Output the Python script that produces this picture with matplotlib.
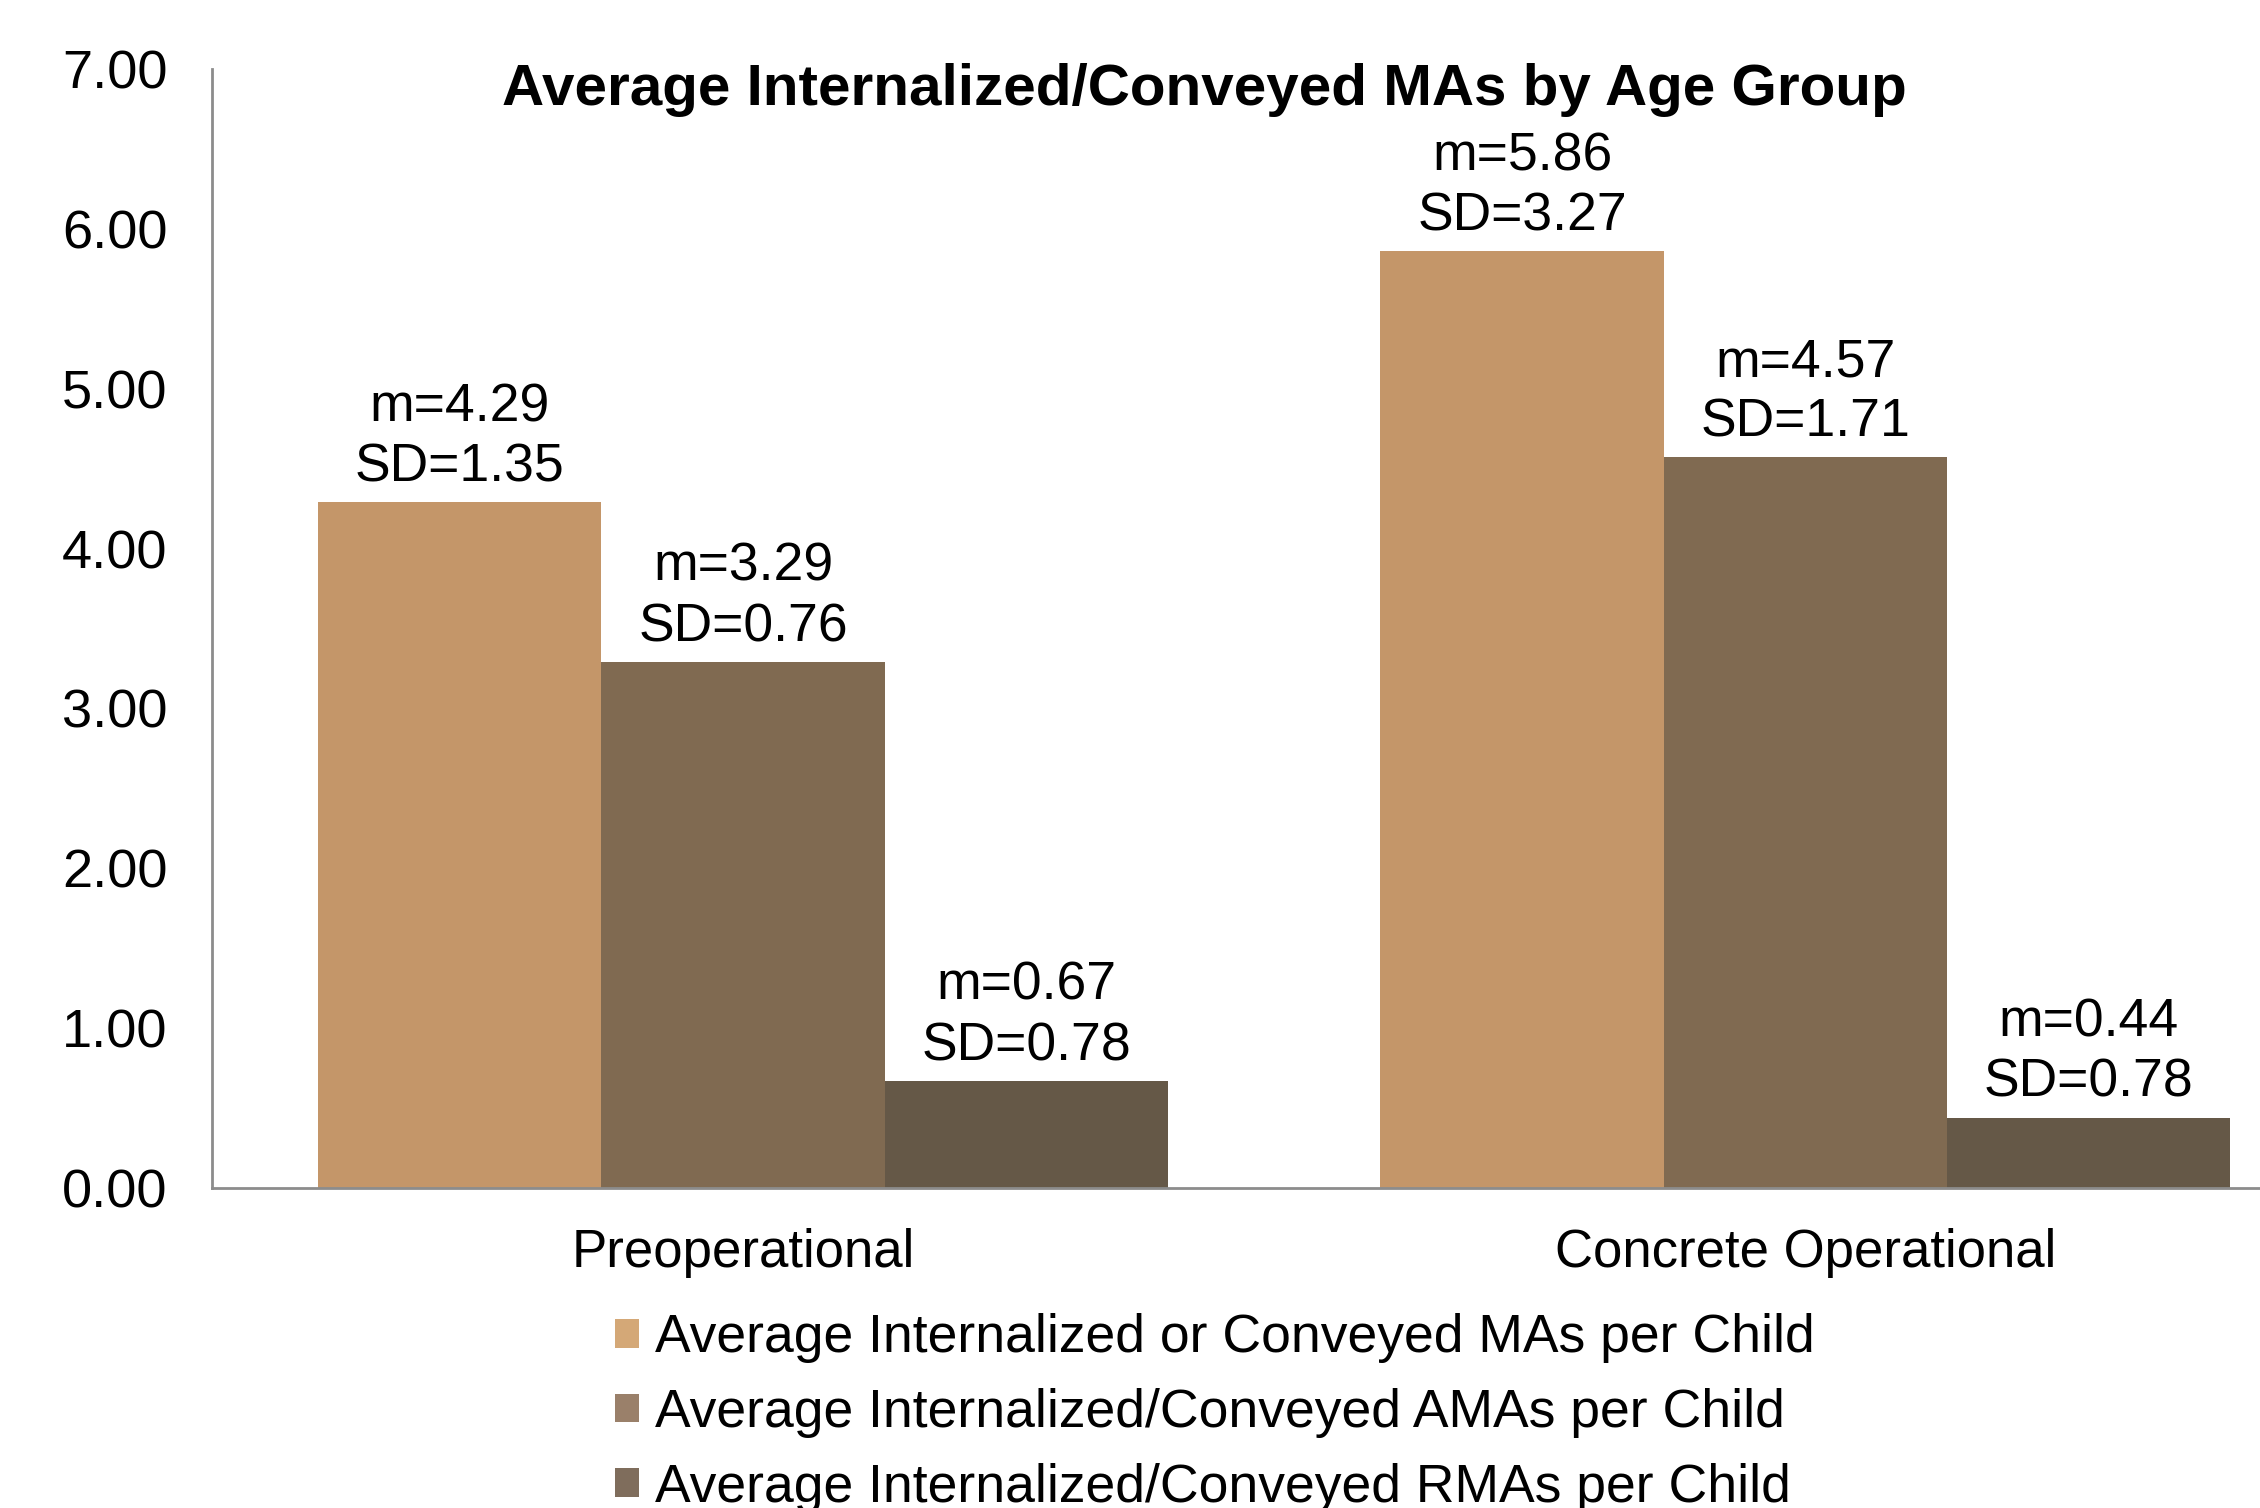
import matplotlib
matplotlib.use("Agg")
import matplotlib.pyplot as plt
from matplotlib.patches import Patch
import numpy as np

plt.rcParams['font.family'] = ['Liberation Sans', 'DejaVu Sans']

categories = ["Preoperational", "Concrete Operational"]
series_names = [
    "Average Internalized or Conveyed MAs per Child",
    "Average Internalized/Conveyed AMAs per Child",
    "Average Internalized/Conveyed RMAs per Child",
]
means = [
    [4.29, 5.86],
    [3.29, 4.57],
    [0.67, 0.44],
]
sds = [
    [1.35, 3.27],
    [0.76, 1.71],
    [0.78, 0.78],
]
yticks = [0, 1, 2, 3, 4, 5, 6, 7]
title = "Average Internalized/Conveyed MAs by Age Group"

bar_colors = ["#C49669", "#806A51", "#655847"]
legend_colors = ["#D4A877", "#9A806A", "#7F6D5C"]

fig = plt.figure(figsize=(22.6, 15.08), dpi=100)
ax = fig.add_axes([0.0938, 0.2122, 0.9062, 0.742])

x = np.arange(len(categories))
width = 0.2667
for i, (vals, sdv) in enumerate(zip(means, sds)):
    pos = x + (i - 1) * width
    bars = ax.bar(pos, vals, width, color=bar_colors[i], edgecolor='none', zorder=2)
    for b, m, s in zip(bars, vals, sdv):
        ax.annotate(f"m={m:.2f}\nSD={s:.2f}", (b.get_x() + b.get_width() / 2, b.get_height()),
                    xytext=(0, 7), textcoords='offset points', ha='center', va='bottom',
                    fontsize=38.5, linespacing=1.27)

ax.set_xlim(-0.5, 1.428)
ax.set_ylim(0, 7)
ax.set_yticks(yticks)
ax.set_yticklabels([f"{v:.2f}" for v in yticks], fontsize=39)
ax.set_xticks(x)
ax.set_xticklabels(categories, fontsize=38)
ax.tick_params(axis='y', length=0, pad=32)
ax.tick_params(axis='x', length=0, pad=29)
for s in ['top', 'right']:
    ax.spines[s].set_visible(False)
for s in ['left', 'bottom']:
    ax.spines[s].set_color('#8C8C8C')
    ax.spines[s].set_linewidth(2)

fig.text(0.533, 0.940, title, ha='center', va='center', fontsize=42, fontweight='bold')

handles = [Patch(facecolor=c, edgecolor='none') for c in legend_colors]
fig.legend(handles, series_names, loc='upper left', bbox_to_anchor=(0.272, 0.129),
           frameon=False, fontsize=38.5, handlelength=0.45, handleheight=0.45,
           handletextpad=0.3, labelspacing=0.46, borderpad=0, borderaxespad=0)

fig.savefig("out.png", dpi=100)
